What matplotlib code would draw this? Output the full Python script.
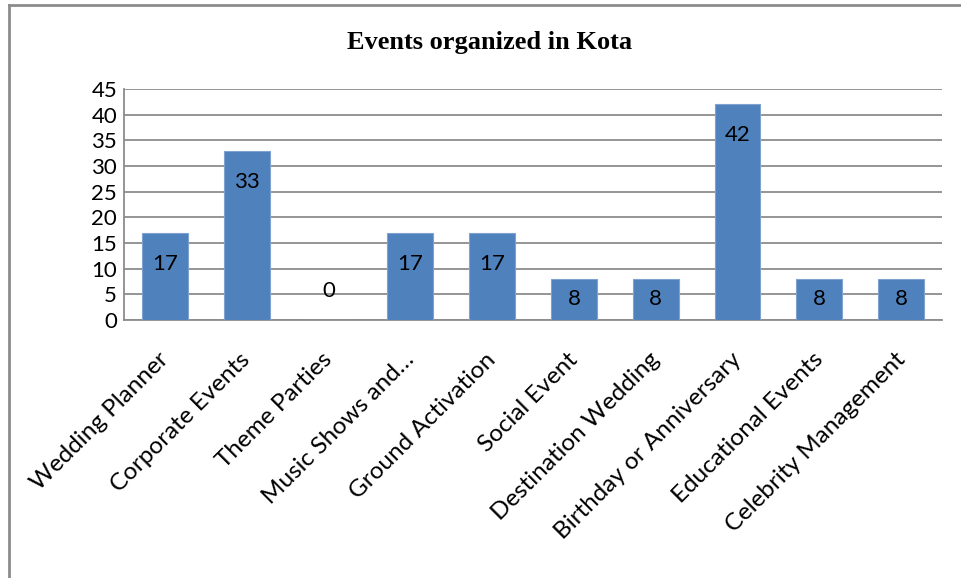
import matplotlib.pyplot as plt
import matplotlib.transforms as mtransforms
from matplotlib.lines import Line2D

# dados do grafico
categorias = ['Wedding Planner', 'Corporate Events', 'Theme Parties', 'Music Shows and…',
              'Ground Activation', 'Social Event', 'Destination Wedding',
              'Birthday or Anniversary', 'Educational Events', 'Celebrity Management']
valores = [17, 33, 0, 17, 17, 8, 8, 42, 8, 8]
yticks = [0, 5, 10, 15, 20, 25, 30, 35, 40, 45]

FS = 16
FONTE = 'Lato'

fig = plt.figure(figsize=(9.61, 5.78), dpi=100)
ax = fig.add_axes([124 / 961, 1 - 320 / 578, (942 - 124) / 961, (320 - 89) / 578])

x = range(len(categorias))
ax.bar(x, valores, width=0.56, color='#4F81BD', edgecolor='#7FA2D0', linewidth=0.8, zorder=3)

ax.set_xlim(-0.5, len(categorias) - 0.5)
ax.set_ylim(0, 45)
ax.set_yticks(yticks)
ax.set_xticks(list(x))
ax.set_xticklabels(categorias, rotation=45, ha='right', rotation_mode='anchor',
                   fontsize=17.5, family=FONTE)
ax.tick_params(axis='x', length=0, pad=10)
ax.tick_params(axis='y', length=0, pad=5, labelsize=FS)
for t in ax.get_yticklabels():
    t.set_family(FONTE)

# desloca os rotulos do eixo x um pouco para baixo e para a esquerda
desloc = mtransforms.ScaledTranslation(-7 / 100, -15 / 100, fig.dpi_scale_trans)
for t in ax.get_xticklabels():
    t.set_transform(t.get_transform() + desloc)

ax.grid(axis='y', color='#8C8C8C', linewidth=1.3, zorder=0)
for s in ['top', 'right']:
    ax.spines[s].set_visible(False)
ax.spines['left'].set_color('#8C8C8C')
ax.spines['bottom'].set_color('#8C8C8C')
ax.spines['left'].set_linewidth(1.3)
ax.spines['bottom'].set_linewidth(1.3)

# rotulos dos valores
for i, v in enumerate(valores):
    if v == 0:
        ax.annotate(str(v), (i, 0), xytext=(0, 29), textcoords='offset pixels',
                    ha='center', va='center', fontsize=FS, family=FONTE)
    elif v < 12:
        ax.text(i, v / 2, str(v), ha='center', va='center', fontsize=FS, family=FONTE)
    else:
        ax.annotate(str(v), (i, v), xytext=(0, -31), textcoords='offset pixels',
                    ha='center', va='center', fontsize=FS, family=FONTE)

fig.text(490 / 961, 1 - 42 / 578, 'Events organized in Kota', ha='center', va='center',
         fontsize=19, fontweight='bold', family='Liberation Serif')

# moldura
fig.add_artist(Line2D([9 / 961, 1], [1 - 5 / 578, 1 - 5 / 578], color='#8C8C8C', linewidth=2))
fig.add_artist(Line2D([9 / 961, 9 / 961], [0, 1 - 5 / 578], color='#8C8C8C', linewidth=2))

fig.savefig('out.png', dpi=100)
